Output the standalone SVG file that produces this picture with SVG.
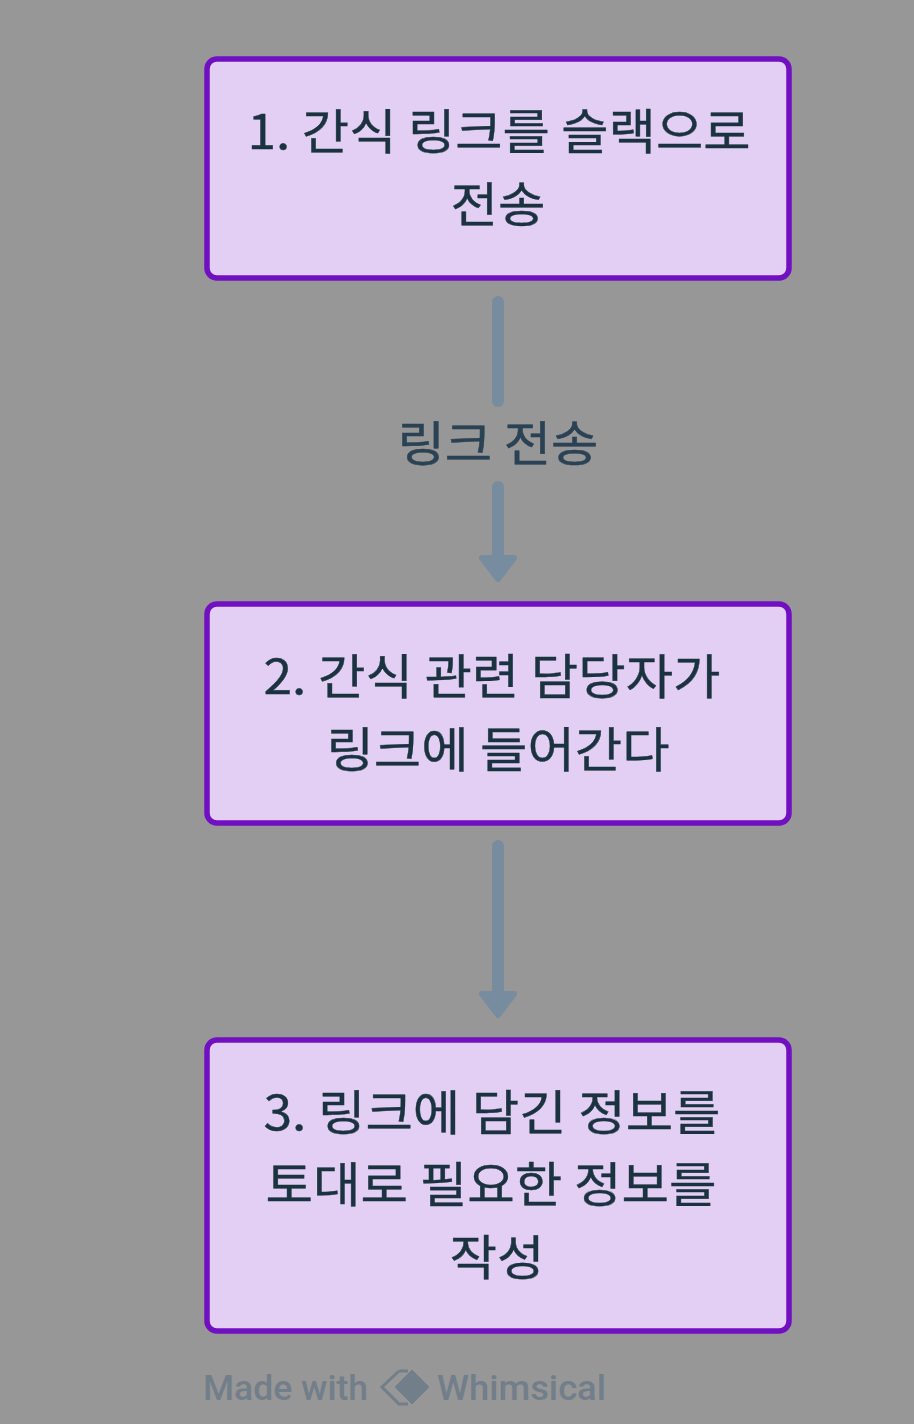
<svg xmlns="http://www.w3.org/2000/svg" width="914" height="1424" viewBox="0 0 914 1424">
<defs><style>
.box{fill:#e4cff4;stroke:#7010c0;stroke-width:5.5}
.t{font-family:"Noto Sans CJK KR","Noto Sans",sans-serif;font-size:48px;fill:#1b3340;stroke:#1b3340;stroke-width:.4;text-anchor:middle}
.l{font-family:"Noto Sans CJK KR","Noto Sans",sans-serif;font-size:48px;fill:#2b4254;stroke:#2b4254;stroke-width:.5;text-anchor:middle}
.c{fill:none;stroke:#788c9f;stroke-width:12;stroke-linecap:round}
.h{fill:#788c9f;stroke:#788c9f;stroke-width:6;stroke-linejoin:round}
.w{font-family:"Roboto","Noto Sans",sans-serif;font-size:35px;font-weight:500;fill:#727e89}
</style></defs>
<rect width="914" height="1424" fill="#979797"/>
<g id="connectors">
<path class="c" d="M498 302V401"/>
<path class="c" d="M498 487V560"/>
<path class="h" d="M482 558H514L498 579Z"/>
<path class="c" d="M498 846V996"/>
<path class="h" d="M482 994H514L498 1015Z"/>
<text class="l" x="498" y="461" textLength="201" lengthAdjust="spacingAndGlyphs">링크 전송</text>
</g>
<g id="node1"><rect class="box" x="207" y="59" width="582" height="219" rx="10"/>
<text class="t" x="499" y="149" textLength="503" lengthAdjust="spacingAndGlyphs">1. 간식 링크를 슬랙으로</text>
<text class="t" x="498" y="222" textLength="95" lengthAdjust="spacingAndGlyphs">전송</text></g>
<g id="node2"><rect class="box" x="207" y="604" width="582" height="219" rx="10"/>
<text class="t" x="492" y="694" textLength="457" lengthAdjust="spacingAndGlyphs">2. 간식 관련 담당자가</text>
<text class="t" x="498" y="767" textLength="343" lengthAdjust="spacingAndGlyphs">링크에 들어간다</text></g>
<g id="node3"><rect class="box" x="207" y="1040" width="582" height="291" rx="10"/>
<text class="t" x="492" y="1130" textLength="457" lengthAdjust="spacingAndGlyphs">3. 링크에 담긴 정보를</text>
<text class="t" x="491" y="1202" textLength="451" lengthAdjust="spacingAndGlyphs">토대로 필요한 정보를</text>
<text class="t" x="497" y="1275" textLength="95" lengthAdjust="spacingAndGlyphs">작성</text></g>
<g id="watermark">
<text class="w" x="203" y="1400" textLength="165" lengthAdjust="spacingAndGlyphs">Made with</text>
<path d="M399 1371L382 1387L399 1404L408 1404M399 1371L408 1371" fill="none" stroke="#727e89" stroke-width="3"/>
<path d="M412 1369L430 1387L412 1405L394 1387Z" fill="#727e89" stroke="#979797" stroke-width="1"/>
<text class="w" x="437" y="1400" textLength="169" lengthAdjust="spacingAndGlyphs">Whimsical</text>
</g>
</svg>
